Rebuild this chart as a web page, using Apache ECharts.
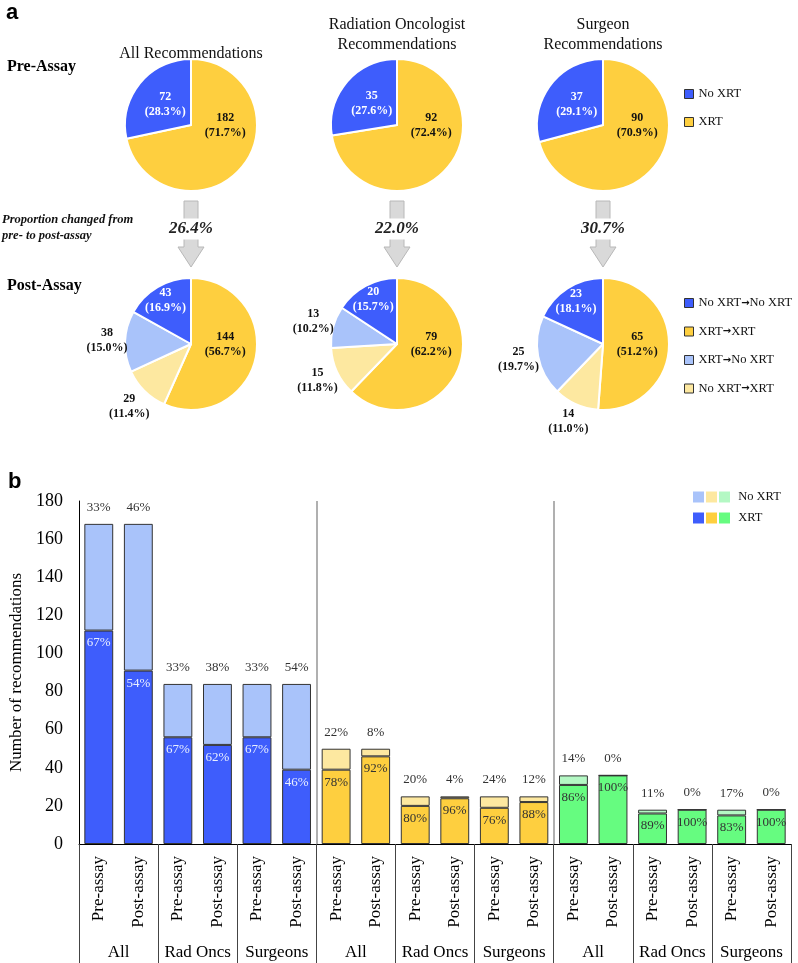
<!DOCTYPE html>
<html>
<head>
<meta charset="utf-8">
<script src="https://cdn.jsdelivr.net/npm/echarts@6/dist/echarts.min.js"></script>
<style>
  html, body { margin: 0; padding: 0; background: #fff; }
  #chart { width: 798px; height: 963px; }
</style>
</head>
<body>
<div id="chart"></div>
<script>
// ---- panel a: recommendations per physician group ----
const pieTitles = ['All Recommendations', 'Radiation Oncologist\nRecommendations', 'Surgeon\nRecommendations'];
const preNoXrt = [72, 35, 37];
const preXrt = [182, 92, 90];
const postXrtXrt = [144, 79, 65];
const postNoXrtXrt = [29, 15, 14];
const postXrtNoXrt = [38, 13, 25];
const postNoXrtNoXrt = [43, 20, 23];

// ---- panel b: stacked bars ----
const assayLabels = ['Pre-assay', 'Post-assay'];
const groupLabels = ['All', 'Rad Oncs', 'Surgeons', 'All', 'Rad Oncs', 'Surgeons', 'All', 'Rad Oncs', 'Surgeons'];
const blueXrt = [112, 91, 56, 52, 56, 39];
const blueNoXrt = [56, 77, 28, 32, 28, 45];
const yellowXrt = [39, 46, 20, 24, 19, 22];
const yellowNoXrt = [11, 4, 5, 1, 6, 3];
const greenXrt = [31, 36, 16, 18, 15, 18];
const greenNoXrt = [5, 0, 2, 0, 3, 0];

const SERIF = "'Liberation Serif', 'Times New Roman', serif";
const SANS = "'Liberation Sans', Arial, sans-serif";

const C = {
  blue: '#3e5dfc', lblue: '#a9c3fa',
  yellow: '#fecf3f', lyellow: '#fde8a0',
  green: '#66fc80', lgreen: '#b4f8c4'
};

// layout of panel a
const pieX = [191, 397, 603];
const preY = 125, postY = 344, pieR = 66;
const titleY = [54, 35, 35];

function pieSeries(i, cy, items) {
  const total = items.reduce((s, d) => s + d.value, 0);
  // mid angle of each slice, degrees clockwise from 12 o'clock
  let acc = 0;
  const mids = items.map(d => {
    const a0 = acc;
    acc += d.value / total * 360;
    return (a0 + acc) / 2;
  });
  return {
    type: 'pie',
    center: [pieX[i], cy],
    radius: pieR,
    startAngle: 90,
    clockwise: true,
    avoidLabelOverlap: false,
    silent: true,
    itemStyle: { borderColor: '#fff', borderWidth: 2 },
    labelLine: { show: false, length: 3, length2: 0 },
    label: {
      fontFamily: SERIF, fontWeight: 'bold', fontSize: 12, lineHeight: 15,
      formatter: p => p.value + '\n(' + (p.value / total * 100).toFixed(1) + '%)'
    },
    // place labels roughly where the spreadsheet put them
    labelLayout: p => {
      const d = items[p.dataIndex];
      let ang = mids[p.dataIndex];
      let dist;
      if (d.place === 'outside') {
        const a = ang * Math.PI / 180;
        dist = pieR - 3 + Math.abs(Math.sin(a)) * p.labelRect.width / 2 + Math.abs(Math.cos(a)) * p.labelRect.height / 2;
      } else if (d.place === 'right') {
        ang = 90;
        dist = 0.52 * pieR;
      } else {
        dist = d.frac * pieR;
      }
      const rad = ang * Math.PI / 180;
      return {
        x: pieX[i] + Math.sin(rad) * dist,
        y: cy - Math.cos(rad) * dist,
        align: 'center', verticalAlign: 'middle'
      };
    },
    data: items.map(d => ({
      name: d.name,
      value: d.value,
      itemStyle: { color: d.color },
      label: {
        position: d.place === 'outside' ? 'outside' : 'inside',
        color: d.white ? '#fff' : '#111'
      }
    }))
  };
}

const series = [];
for (let i = 0; i < 3; i++) {
  series.push(pieSeries(i, preY, [
    { name: 'XRT', value: preXrt[i], color: C.yellow, place: 'right' },
    { name: 'No XRT', value: preNoXrt[i], color: C.blue, white: true, frac: 0.5 }
  ]));
  series.push(pieSeries(i, postY, [
    { name: 'XRT→XRT', value: postXrtXrt[i], color: C.yellow, place: 'right' },
    { name: 'No XRT→XRT', value: postNoXrtXrt[i], color: C.lyellow, place: 'outside' },
    { name: 'XRT→No XRT', value: postXrtNoXrt[i], color: C.lblue, place: 'outside' },
    { name: 'No XRT→No XRT', value: postNoXrtNoXrt[i], color: C.blue, white: true, frac: 0.76 }
  ]));
}

// ---- bar series ----
const barCats = [];
groupLabels.forEach(() => assayLabels.forEach(a => barCats.push(a)));
const perGroup = blueXrt.length;
const barGroups = [
  { xrt: blueXrt, no: blueNoXrt, dark: C.blue, light: C.lblue, inner: '#e8eeff' },
  { xrt: yellowXrt, no: yellowNoXrt, dark: C.yellow, light: C.lyellow, inner: '#333' },
  { xrt: greenXrt, no: greenNoXrt, dark: C.green, light: C.lgreen, inner: '#333' }
];
function pad(arr, g) {
  const out = barCats.map(() => '-');
  arr.forEach((v, k) => { out[g * perGroup + k] = v; });
  return out;
}
const barLabelFont = { fontFamily: SERIF, fontSize: 13 };
barGroups.forEach((grp, g) => {
  series.push({
    name: 'x' + g, type: 'bar', stack: 'b', barWidth: '73%',
    xAxisIndex: 0, yAxisIndex: 0, silent: true,
    itemStyle: { color: grp.dark, borderColor: '#333', borderWidth: 1 },
    label: {
      show: true, position: 'insideTop', distance: 6, color: grp.inner, ...barLabelFont,
      formatter: p => {
        const k = p.dataIndex - g * perGroup;
        return Math.round(grp.xrt[k] / (grp.xrt[k] + grp.no[k]) * 100) + '%';
      }
    },
    data: pad(grp.xrt, g)
  });
});
barGroups.forEach((grp, g) => {
  series.push({
    name: 'n' + g, type: 'bar', stack: 'b', barWidth: '73%',
    xAxisIndex: 0, yAxisIndex: 0, silent: true,
    itemStyle: { color: grp.light, borderColor: '#333', borderWidth: 1 },
    label: {
      show: true, position: 'top', distance: 10, color: '#333', ...barLabelFont,
      formatter: p => {
        const k = p.dataIndex - g * perGroup;
        return Math.round(grp.no[k] / (grp.xrt[k] + grp.no[k]) * 100) + '%';
      }
    },
    data: pad(grp.no, g)
  });
});
// gray separators between colour groups
series.push({
  type: 'scatter', xAxisIndex: 2, yAxisIndex: 0, data: [], silent: true,
  markLine: {
    symbol: 'none', silent: true, label: { show: false },
    lineStyle: { color: '#b0b0b0', width: 2, type: 'solid' },
    data: [1, 2].map(b => ({ xAxis: b * perGroup }))
  }
});

// ---- decorations: headings and arrows ----
const graphic = [
  { type: 'text', left: 6, top: 2, style: { text: 'a', font: "bold 22px " + SANS, fill: '#000' } },
  { type: 'text', left: 8, top: 471, style: { text: 'b', font: "bold 22px " + SANS, fill: '#000' } },
  { type: 'text', left: 7, top: 59, style: { text: 'Pre-Assay', font: "bold 16px " + SERIF, fill: '#000' } },
  { type: 'text', left: 7, top: 278, style: { text: 'Post-Assay', font: "bold 16px " + SERIF, fill: '#000' } },
  { type: 'text', left: 2, top: 212, style: { text: 'Proportion changed from\npre- to post-assay', font: "italic bold 12.5px " + SERIF, lineHeight: 16, fill: '#111' } }
];
pieTitles.forEach((t, i) => {
  graphic.push({
    type: 'text',
    style: {
      text: t, x: pieX[i], y: titleY[i], align: 'center', verticalAlign: 'middle',
      font: "16px " + SERIF, lineHeight: 20, fill: '#111'
    }
  });
});
pieX.forEach((x, i) => {
  const changed = postNoXrtXrt[i] + postXrtNoXrt[i];
  const total = preXrt[i] + preNoXrt[i];
  graphic.push({
    type: 'polygon',
    shape: { points: [[x - 7, 201], [x + 7, 201], [x + 7, 247], [x + 13, 247], [x, 267], [x - 13, 247], [x - 7, 247]] },
    style: { fill: '#d9d9d9', stroke: '#b8b8b8', lineWidth: 1 }
  });
  graphic.push({
    type: 'text',
    style: {
      text: (changed / total * 100).toFixed(1) + '%', x: x, y: 229, align: 'center', verticalAlign: 'middle',
      font: "italic bold 17px " + SERIF, fill: '#222', backgroundColor: '#fff', padding: [2, 1]
    }
  });
});

const legendText = {
  fontFamily: SERIF, fontSize: 12.5, color: '#111', lineHeight: 16,
  rich: { arr: { fontFamily: "'DejaVu Sans', sans-serif", fontSize: 10, fontWeight: 'bold', color: '#111' } }
};
const arrowFmt = n => n.replace('→', '{arr|→}');

const chart = echarts.init(document.getElementById('chart'));
chart.setOption({
  backgroundColor: '#fff',
  animation: false,
  graphic: graphic,
  legend: [
    {
      data: ['No XRT', 'XRT'], orient: 'vertical', left: 684, top: 86, padding: 0,
      icon: 'rect', itemWidth: 9, itemHeight: 9, itemGap: 12, selectedMode: false,
      itemStyle: { borderColor: '#333', borderWidth: 1 },
      textStyle: legendText
    },
    {
      data: ['No XRT→No XRT', 'XRT→XRT', 'XRT→No XRT', 'No XRT→XRT'], orient: 'vertical', left: 684, top: 295, padding: 0,
      icon: 'rect', itemWidth: 9, itemHeight: 9, itemGap: 12.5, selectedMode: false,
      itemStyle: { borderColor: '#333', borderWidth: 1 },
      formatter: arrowFmt,
      textStyle: legendText
    },
    {
      data: ['n0', 'n1', 'n2'], left: 693, top: 489, padding: 0,
      icon: 'rect', itemWidth: 11, itemHeight: 11, itemGap: -3, selectedMode: false,
      itemStyle: { borderWidth: 0 },
      formatter: n => (n === 'n2' ? ' No XRT' : ''),
      textStyle: legendText
    },
    {
      data: ['x0', 'x1', 'x2'], left: 693, top: 510, padding: 0,
      icon: 'rect', itemWidth: 11, itemHeight: 11, itemGap: -3, selectedMode: false,
      itemStyle: { borderWidth: 0 },
      formatter: n => (n === 'x2' ? ' XRT' : ''),
      textStyle: legendText
    }
  ],
  grid: { left: 79, right: 7, top: 501, bottom: 119, containLabel: false },
  xAxis: [
    {
      type: 'category', data: barCats, position: 'bottom',
      axisLine: { lineStyle: { color: '#000', width: 1 } },
      axisTick: { show: false },
      axisLabel: { interval: 0, rotate: 90, margin: 12, fontFamily: SERIF, fontSize: 17, color: '#000' }
    },
    {
      type: 'category', data: groupLabels, position: 'bottom',
      axisLine: { show: false },
      axisTick: { show: true, interval: 0, length: 119, lineStyle: { color: '#444', width: 1 } },
      axisLabel: { interval: 0, margin: 100, fontFamily: SERIF, fontSize: 17, color: '#000' }
    },
    { type: 'value', min: 0, max: barCats.length, show: false }
  ],
  yAxis: {
    type: 'value', min: 0, max: 180, interval: 20,
    name: 'Number of recommendations', nameLocation: 'middle', nameGap: 48,
    nameTextStyle: { fontFamily: SERIF, fontSize: 17, color: '#000' },
    axisLine: { show: true, lineStyle: { color: '#000', width: 1 } },
    axisTick: { show: false },
    splitLine: { show: false },
    axisLabel: { margin: 16, fontFamily: SERIF, fontSize: 18, color: '#000' }
  },
  series: series
});
window.addEventListener('resize', () => chart.resize());
</script>
</body>
</html>
